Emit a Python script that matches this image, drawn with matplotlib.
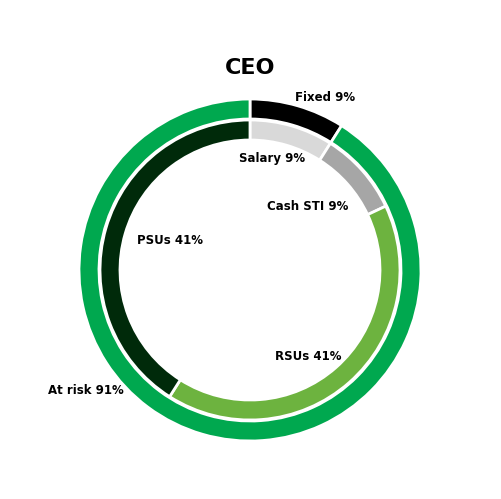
import matplotlib.pyplot as plt

outer_labels = ['Fixed', 'At risk']
outer_vals = [9, 91]
outer_colors = ['#000000', '#00a84f']

inner_labels = ['Salary', 'Cash STI', 'RSUs', 'PSUs']
inner_vals = [9, 9, 41, 41]
inner_colors = ['#d9d9d9', '#a6a6a6', '#6db33f', '#002a0a']

fig = plt.figure(figsize=(5.01, 4.99), dpi=100)
ax = fig.add_axes([0, 0, 1, 1])
ax.set_xlim(0, 501)
ax.set_ylim(0, 499)
ax.set_aspect('equal')
ax.axis('off')

cx, cy = 250, 499 - 270
ax.pie(outer_vals, colors=outer_colors, radius=171, center=(cx, cy), startangle=90,
       counterclock=False, wedgeprops=dict(width=20, edgecolor='white', linewidth=2), frame=True)
ax.pie(inner_vals, colors=inner_colors, radius=150, center=(cx, cy), startangle=90,
       counterclock=False, wedgeprops=dict(width=20, edgecolor='white', linewidth=2), frame=True)
ax.set_xlim(0, 501)
ax.set_ylim(0, 499)
ax.axis('off')

# label positions (pixels from top-left)
outer_pos = [(325, 97), (86, 391)]
inner_pos = [(272, 158), (308, 206), (308, 357), (170, 240)]
for lab, v, (x, y) in zip(outer_labels, outer_vals, outer_pos):
    ax.text(x, 499 - y, f'{lab} {v}%', ha='center', va='center', fontsize=8.5, fontweight='bold')
for lab, v, (x, y) in zip(inner_labels, inner_vals, inner_pos):
    ax.text(x, 499 - y, f'{lab} {v}%', ha='center', va='center', fontsize=8.5, fontweight='bold')

ax.text(250, 499 - 68, 'CEO', ha='center', va='center', fontsize=16, fontweight='bold')

fig.savefig('out.png', dpi=100)
